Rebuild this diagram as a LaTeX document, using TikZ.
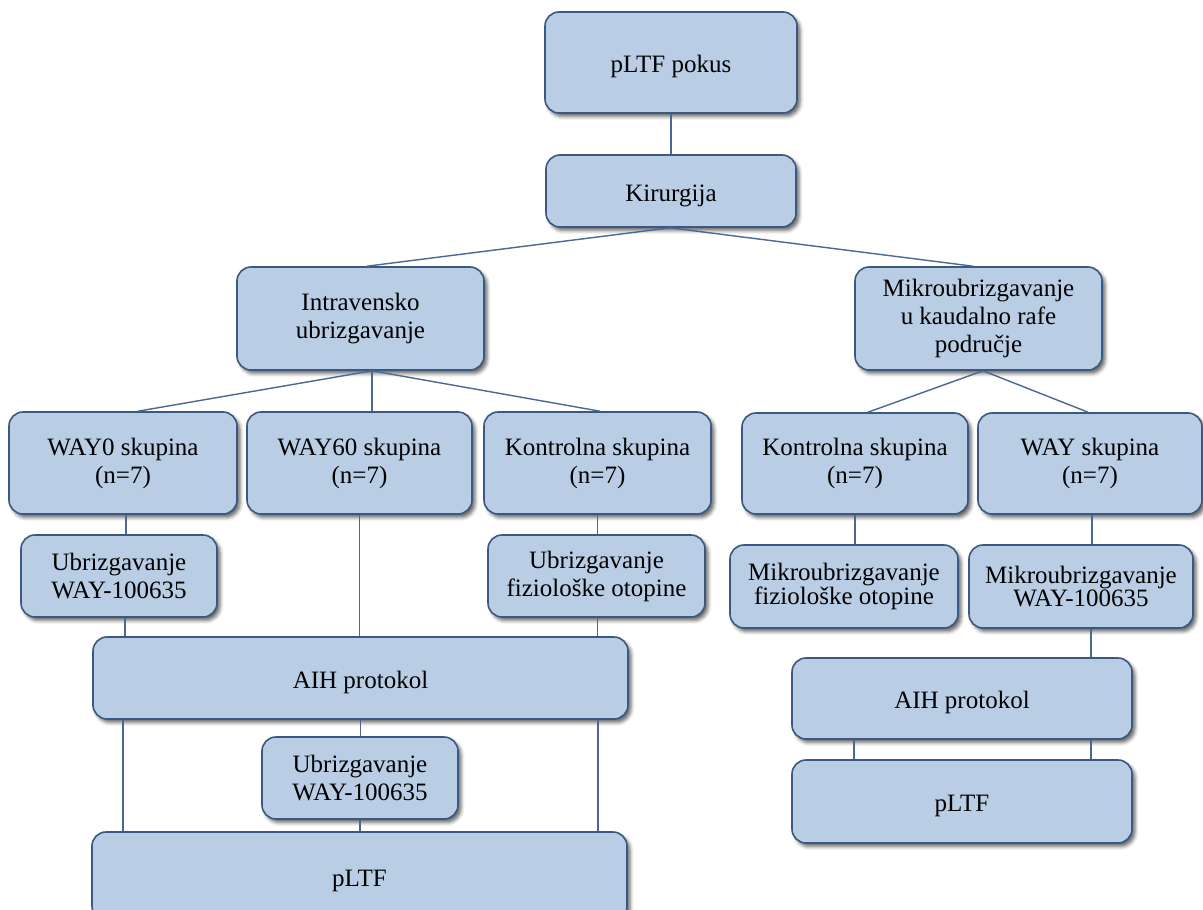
\documentclass[tikz,border=0pt]{standalone}
\usepackage{fontspec}
\setmainfont{Liberation Serif}
\usetikzlibrary{calc,shadows.blur}
\definecolor{boxfill}{HTML}{B9CDE5}
\definecolor{boxline}{HTML}{3A5880}
\definecolor{conn}{HTML}{4A6893}
\begin{document}
\begin{tikzpicture}[x=1pt,y=-1pt,
  box/.style={draw=boxline, line width=1.6pt, fill=boxfill, rounded corners=14pt,
    align=center, inner sep=0pt, font=\fontsize{25}{28}\selectfont,
    execute at begin node={\rule{0pt}{26pt}},
    blur shadow={shadow xshift=3pt, shadow yshift=-3.5pt, shadow blur radius=3.5pt, shadow opacity=60}},
  tight/.style={font=\fontsize{25}{22}\selectfont},
  link/.style={draw=conn, line width=1.4pt}]
\useasboundingbox (0,0) rectangle (1203,910);
\clip (0,0) rectangle (1203,910);

% level 0-1
\node[box, minimum width=252pt, minimum height=101pt] (pokus) at (671,62.5) {pLTF pokus};
\node[box, minimum width=250pt, minimum height=72pt] (kir) at (671,191) {Kirurgija};
% level 2
\node[box, minimum width=247pt, minimum height=103pt] (intra) at (360.5,318.5) {Intravensko\\ubrizgavanje};
\node[box, minimum width=247pt, minimum height=103pt] (mikro) at (978.5,318.5) {Mikroubrizgavanje\\u kaudalno rafe\\područje};
% level 3
\node[box, minimum width=228pt, minimum height=102pt] (way0) at (123,463) {WAY0 skupina\\(n=7)};
\node[box, minimum width=225pt, minimum height=102pt] (way60) at (359.5,463) {WAY60 skupina\\(n=7)};
\node[box, minimum width=227pt, minimum height=102pt] (kontL) at (597.5,463) {Kontrolna skupina\\(n=7)};
\node[box, minimum width=226pt, minimum height=101pt] (kontR) at (855,463.5) {Kontrolna skupina\\(n=7)};
\node[box, minimum width=224pt, minimum height=101pt] (wayR) at (1090,463.5) {WAY skupina\\(n=7)};
% level 4
\node[box, minimum width=196pt, minimum height=82pt] (ubrL) at (119,576) {Ubrizgavanje\\WAY-100635};
\node[box, minimum width=217pt, minimum height=82pt] (ubrFiz) at (596.5,576) {Ubrizgavanje\\fiziološke otopine};
\node[box, tight, minimum width=228pt, minimum height=83pt] (mikFiz) at (844,586.5) {Mikroubrizgavanje\\fiziološke otopine};
\node[box, tight, minimum width=224pt, minimum height=83pt] (mikWay) at (1081,586.5) {Mikroubrizgavanje\\WAY-100635};
% lower part
\node[box, minimum width=535pt, minimum height=82pt] (aihL) at (360.5,678) {AIH protokol};
\node[box, minimum width=196pt, minimum height=82pt] (ubrC) at (360,778) {Ubrizgavanje\\WAY-100635};
\node[box, minimum width=535pt, minimum height=88pt] (pltfL) at (359.5,876) {pLTF};
\node[box, minimum width=340pt, minimum height=81pt] (aihR) at (962,698.5) {AIH protokol};
\node[box, minimum width=340pt, minimum height=83pt] (pltfR) at (962,801.5) {pLTF};

% connectors
\draw[link] (pokus) -- (kir);
\draw[link] ([xshift=-1pt]kir.south) -- ([xshift=6.5pt]intra.north);
\draw[link] ([xshift=-1pt]kir.south) -- ([xshift=-5.5pt]mikro.north);

\draw[link] ([xshift=11.5pt]intra.south) -- ([xshift=15pt]way0.north);
\draw[link] ([xshift=11.5pt]intra.south) -- ([xshift=11.5pt]intra.south |- way60.north);
\draw[link] ([xshift=11.5pt]intra.south) -- ([xshift=2.5pt]kontL.north);

\draw[link] ([xshift=4.5pt]mikro.south) -- ([xshift=13pt]kontR.north);
\draw[link] ([xshift=4.5pt]mikro.south) -- ([xshift=-2pt]wayR.north);

\draw[link] ([xshift=3pt]way0.south) -- ([xshift=3pt]way0.south |- ubrL.north);
\draw[link] ([xshift=6pt]ubrL.south) -- ([xshift=6pt]ubrL.south |- aihL.north);
\draw[link] (way60.south) -- (way60.south |- aihL.north);
\draw[link] (kontL.south) -- (kontL.south |- ubrFiz.north);
\draw[link] ([xshift=1pt]ubrFiz.south) -- ([xshift=1pt]ubrFiz.south |- aihL.north);

\draw[link] ([xshift=-237.5pt]aihL.south) -- ([xshift=-237.5pt]aihL.south |- pltfL.north);
\draw[link] ([xshift=237.5pt]aihL.south) -- ([xshift=237.5pt]aihL.south |- pltfL.north);
\draw[link] (aihL.south) -- (aihL.south |- ubrC.north);
\draw[link] (ubrC.south) -- (ubrC.south |- pltfL.north);

\draw[link] (kontR.south) -- (kontR.south |- mikFiz.north);
\draw[link] ([xshift=2pt]wayR.south) -- ([xshift=2pt]wayR.south |- mikWay.north);
\draw[link] ([xshift=10pt]mikWay.south) -- ([xshift=10pt]mikWay.south |- aihR.north);
\draw[link] ([xshift=-108pt]aihR.south) -- ([xshift=-108pt]aihR.south |- pltfR.north);
\draw[link] ([xshift=129pt]aihR.south) -- ([xshift=129pt]aihR.south |- pltfR.north);
\end{tikzpicture}
\end{document}
